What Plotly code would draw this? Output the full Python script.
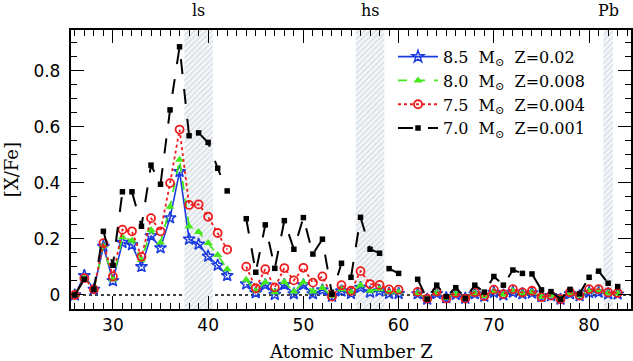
import plotly.graph_objects as go

Z = list(range(26, 84))

x_band_centers = [39, 57, 82]
x_band_widths = [3, 3, 1]
band_labels = ["ls", "hs", "Pb"]

blue_85 = [0, 0.069, 0.02, 0.173, 0.051, 0.187, 0.179, 0.101, 0.211, 0.168, 0.275, 0.44,
           0.199, 0.181, 0.138, 0.106, 0.069, None, 0.039, 0.008, 0.036, 0.002, 0.037, 0.004,
           0.036, 0.004, 0.018, -0.005, 0.014, 0.005, 0.027, 0.01, 0.014, 0.005, 0.005, None,
           0.004, -0.015, 0.005, -0.01, 0.002, -0.012, 0.004, -0.005, 0.009, 0.0, 0.01, 0.004,
           0.007, -0.006, -0.003, -0.015, 0.004, -0.003, 0.009, 0.01, 0.004, 0.003]
green_80 = [0, 0.06, 0.02, 0.175, 0.055, 0.206, 0.194, 0.125, 0.232, 0.187, 0.315, 0.482,
            0.244, 0.225, 0.185, 0.143, 0.092, None, 0.054, 0.015, 0.045, 0.01, 0.046, 0.012,
            0.045, 0.012, 0.025, -0.004, 0.02, 0.01, 0.035, 0.015, 0.02, 0.01, 0.01, None,
            0.006, -0.014, 0.008, -0.01, 0.004, -0.012, 0.006, -0.004, 0.012, 0.002, 0.014, 0.006,
            0.01, -0.006, -0.002, -0.014, 0.006, -0.002, 0.013, 0.014, 0.006, 0.005]
red_75 = [0, 0.06, 0.02, 0.185, 0.066, 0.233, 0.227, 0.136, 0.274, 0.227, 0.399, 0.59,
          0.321, 0.323, 0.279, 0.221, 0.162, None, 0.101, 0.024, 0.092, 0.027, 0.096, 0.052,
          0.097, 0.044, 0.066, -0.006, 0.035, 0.015, 0.085, 0.039, 0.036, 0.02, 0.019, None,
          0.011, -0.013, 0.012, -0.013, 0.007, -0.013, 0.01, -0.004, 0.019, 0.003, 0.021, 0.009,
          0.015, -0.008, -0.002, -0.015, 0.01, -0.002, 0.021, 0.021, 0.009, 0.007]
black_70 = [0, 0.056, 0.02, 0.227, 0.106, 0.368, 0.368, 0.245, 0.463, 0.395, 0.66, 0.885,
            0.568, 0.578, 0.544, 0.452, 0.371, None, 0.272, 0.081, 0.25, 0.095, 0.265, 0.163,
            0.276, 0.146, 0.199, 0.003, 0.113, 0.063, 0.277, 0.163, 0.149, 0.094, 0.077, None,
            0.056, -0.015, 0.035, -0.006, 0.026, -0.012, 0.035, 0.01, 0.066, 0.035, 0.089, 0.077,
            0.075, 0.018, 0.012, -0.015, 0.02, 0.004, 0.063, 0.085, 0.042, 0.03]

names = ["8.5\u00a0 M<sub>⊙</sub>\u00a0 Z=0.02",
         "8.0\u00a0 M<sub>⊙</sub>\u00a0 Z=0.008",
         "7.5\u00a0 M<sub>⊙</sub>\u00a0 Z=0.004",
         "7.0\u00a0 M<sub>⊙</sub>\u00a0 Z=0.001"]

XR = [25.6, 84.4]
YR = [-0.05, 0.945]

fig = go.Figure()

# hatched bands
fig.add_trace(go.Bar(
    x=x_band_centers, y=[YR[1] - YR[0]] * 3, base=YR[0], width=x_band_widths,
    marker=dict(color="white", line=dict(width=0),
                pattern=dict(shape="/", fgcolor="#d3dbe2", bgcolor="#f5f7f9", size=4, solidity=0.35)),
    showlegend=False, hoverinfo="skip"))

fig.add_trace(go.Scatter(x=Z, y=blue_85, name=names[0], mode="lines+markers",
                         line=dict(color="#1c3ce0", width=1.6),
                         marker=dict(symbol="star-open", size=9, color="#1c3ce0", line=dict(width=1.5))))
fig.add_trace(go.Scatter(x=Z, y=green_80, name=names[1], mode="lines+markers",
                         line=dict(color="#44e81c", width=1.8, dash="dash"),
                         marker=dict(symbol="triangle-up", size=8, color="#44e81c")))
fig.add_trace(go.Scatter(x=Z, y=red_75, name=names[2], mode="lines+markers",
                         line=dict(color="#ee1c1c", width=1.8, dash="dot"),
                         marker=dict(symbol="circle-open", size=8, color="#ee1c1c", line=dict(width=1.8))))
fig.add_trace(go.Scatter(x=Z, y=black_70, name=names[3], mode="lines+markers",
                         line=dict(color="black", width=2, dash="longdash"),
                         marker=dict(symbol="square", size=5.5, color="black")))

fig.add_shape(type="line", x0=XR[0], x1=XR[1], y0=0, y1=0, xref="x", yref="y",
              line=dict(color="black", width=1.3, dash="dot"), layer="below")

for xc, lab in zip(x_band_centers, band_labels):
    fig.add_annotation(x=xc, y=1.07, xref="x", yref="paper", text=lab, showarrow=False,
                       font=dict(family="DejaVu Serif", size=16, color="black"), yanchor="middle")

fig.add_annotation(x=0.5, y=-0.154, xref="paper", yref="paper", text="Atomic Number Z",
                   showarrow=False, font=dict(family="DejaVu Serif", size=18, color="black"),
                   yanchor="middle")
fig.add_annotation(x=-0.106, y=0.5, xref="paper", yref="paper", text="[X/Fe]", textangle=-90,
                   showarrow=False, font=dict(family="DejaVu Serif", size=18, color="black"),
                   xanchor="center")

axis_common = dict(showline=True, linecolor="black", linewidth=1.5, mirror="ticks",
                   ticks="inside", tickcolor="black", tickwidth=1.3, showgrid=False, zeroline=False,
                   automargin=False,
                   tickfont=dict(family="DejaVu Sans", size=17, color="black"))

fig.update_xaxes(range=XR, tick0=0, dtick=10, ticklen=13,
                 minor=dict(dtick=1, tick0=0, ticklen=6, ticks="inside", tickcolor="black", tickwidth=1.2,
                            showgrid=False),
                 **axis_common)
fig.update_yaxes(range=YR, ticklen=13,
                 tickvals=[0, 0.2, 0.4, 0.6, 0.8], ticktext=["0 ", "0.2 ", "0.4 ", "0.6 ", "0.8 "],
                 minor=dict(dtick=0.05, tick0=0, ticklen=6, ticks="inside", tickcolor="black", tickwidth=1.2,
                            showgrid=False),
                 **axis_common)

fig.update_layout(
    template="none",
    width=633, height=361,
    margin=dict(l=71, r=2, t=30, b=52, autoexpand=False),
    plot_bgcolor="white", paper_bgcolor="white",
    showlegend=True,
    legend=dict(x=0.575, y=0.965, xanchor="left", yanchor="top", bgcolor="rgba(0,0,0,0)",
                font=dict(family="DejaVu Serif", size=16, color="black"),
                tracegroupgap=0, itemwidth=40),
    barmode="overlay",
)

fig.write_html("out.html", config={"displayModeBar": False},
               post_script="document.body.style.margin='0';document.body.style.overflow='hidden';")
